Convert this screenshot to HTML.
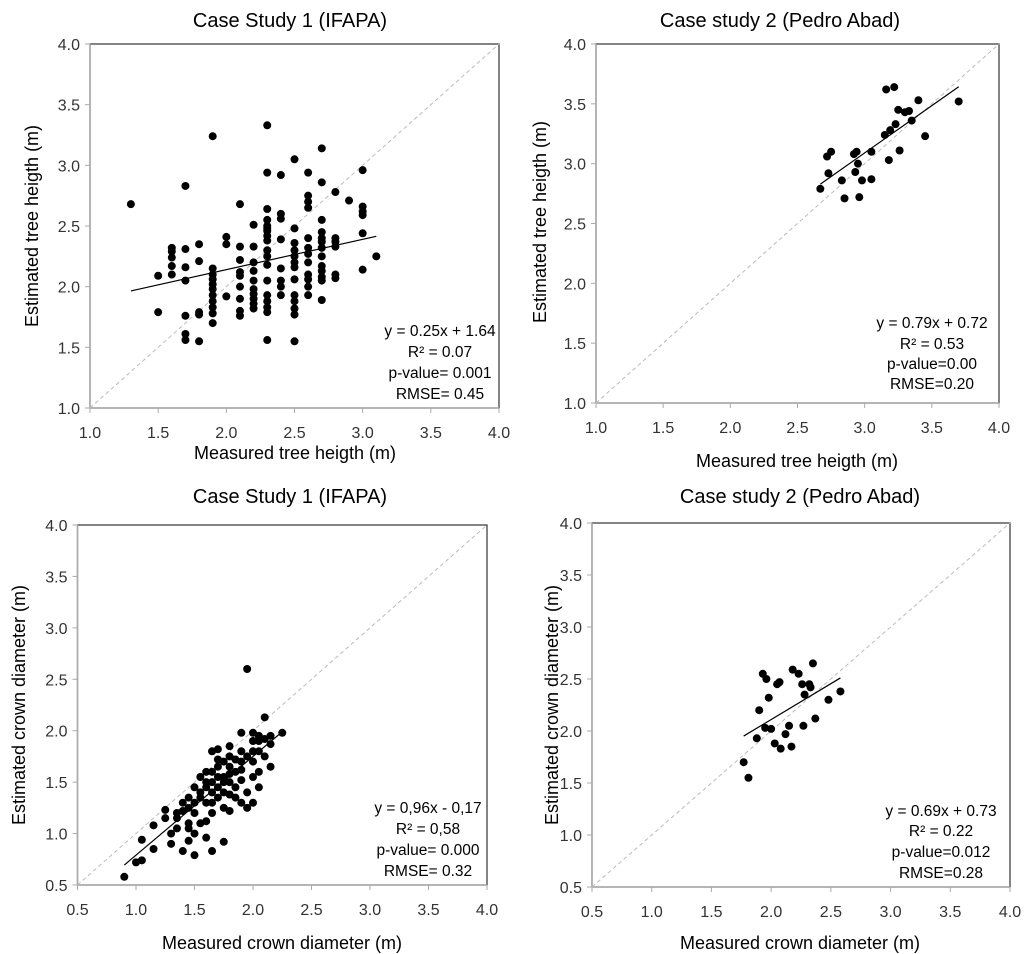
<!DOCTYPE html>
<html><head><meta charset="utf-8"><style>
body{margin:0;background:#fff}
svg{display:block;font-family:"Liberation Sans",sans-serif}
</style></head><body>
<svg id="fig" width="1024" height="954" viewBox="0 0 1024 954"></svg>
<script>
// ---- data ----
const p1x=[1.3,1.5,1.5,1.6,1.6,1.6,1.6,1.6,1.7,1.7,1.7,1.7,1.7,1.7,1.7,1.8,1.8,1.8,1.8,1.8,1.9,1.9,1.9,1.9,1.9,1.9,1.9,1.9,1.9,1.9,1.9,2.0,2.0,2.0,2.1,2.1,2.1,2.1,2.1,2.1,2.1,2.1,2.1,2.2,2.2,2.2,2.2,2.2,2.2,2.2,2.2,2.2,2.2,2.3,2.3,2.3,2.3,2.3,2.3,2.3,2.3,2.3,2.3,2.3,2.3,2.3,2.3,2.3,2.3,2.3,2.3,2.4,2.4,2.4,2.4,2.4,2.4,2.4,2.4,2.5,2.5,2.5,2.5,2.5,2.5,2.5,2.5,2.5,2.5,2.5,2.5,2.5,2.6,2.6,2.6,2.6,2.6,2.6,2.6,2.6,2.6,2.6,2.6,2.6,2.7,2.7,2.7,2.7,2.7,2.7,2.7,2.7,2.7,2.7,2.7,2.7,2.7,2.8,2.8,2.8,2.8,2.8,2.8,2.9,3.0,3.0,3.0,3.0,3.0,3.0,3.1];
const p1y=[2.68,2.09,1.79,2.32,2.29,2.24,2.17,2.10,2.31,2.16,2.05,2.83,1.76,1.61,1.56,2.35,2.21,1.79,1.55,1.77,3.24,2.15,2.10,2.06,2.02,1.98,1.93,1.88,1.83,1.78,1.70,2.41,2.35,1.92,2.68,2.33,2.22,2.12,2.09,2.00,1.90,1.80,1.76,2.51,2.33,2.20,2.13,1.98,1.94,1.90,1.86,1.82,2.05,3.33,2.94,2.64,2.55,2.50,2.46,2.42,2.38,2.30,2.25,2.18,2.05,1.93,1.88,1.83,1.79,1.56,2.48,2.92,2.60,2.56,2.39,2.15,2.05,2.00,1.93,3.05,2.48,2.30,2.25,2.20,2.16,2.06,1.93,1.88,1.82,1.77,1.55,2.36,2.94,2.75,2.70,2.65,2.40,2.32,2.27,2.20,2.10,2.06,2.00,1.93,3.14,2.86,2.55,2.40,2.37,2.32,2.25,2.17,2.13,2.08,2.05,1.89,2.45,2.78,2.40,2.37,2.33,2.10,2.07,2.71,2.96,2.66,2.62,2.59,2.44,2.14,2.25];
const p2x=[2.67,2.72,2.73,2.75,2.83,2.85,2.92,2.93,2.94,2.95,2.96,2.98,3.05,3.05,3.15,3.16,3.18,3.19,3.22,3.23,3.25,3.26,3.30,3.33,3.35,3.40,3.45,3.70];
const p2y=[2.79,3.06,2.92,3.10,2.86,2.71,3.08,2.93,3.10,3.00,2.72,2.86,3.10,2.87,3.24,3.62,3.03,3.28,3.64,3.33,3.45,3.11,3.43,3.44,3.36,3.53,3.23,3.52];
const p3x=[0.9,1.0,1.05,1.05,1.15,1.15,1.25,1.25,1.3,1.3,1.35,1.35,1.35,1.4,1.4,1.4,1.45,1.45,1.45,1.45,1.45,1.5,1.5,1.5,1.5,1.5,1.55,1.55,1.55,1.55,1.6,1.6,1.6,1.6,1.6,1.6,1.65,1.65,1.65,1.65,1.65,1.65,1.65,1.7,1.7,1.7,1.7,1.7,1.7,1.75,1.75,1.75,1.75,1.75,1.75,1.8,1.8,1.8,1.8,1.8,1.8,1.8,1.85,1.85,1.85,1.85,1.9,1.9,1.9,1.9,1.9,1.9,1.95,1.95,1.95,1.95,2.0,2.0,2.0,2.0,2.0,2.05,2.05,2.05,2.05,2.05,2.1,2.1,2.1,2.15,2.15,2.15,2.25,2.0];
const p3y=[0.58,0.72,0.74,0.94,1.08,0.85,1.23,1.15,0.90,1.0,1.05,1.15,1.20,1.30,1.22,0.83,1.35,1.25,1.10,1.05,0.93,1.45,1.30,1.20,1.0,0.79,1.55,1.40,1.35,1.10,1.60,1.50,1.45,1.30,1.12,0.96,1.80,1.60,1.50,1.40,1.30,1.20,0.83,1.82,1.72,1.65,1.55,1.45,1.35,1.70,1.55,1.50,1.40,1.25,0.92,1.85,1.75,1.65,1.58,1.50,1.38,1.22,1.72,1.60,1.45,1.35,1.98,1.80,1.70,1.62,1.52,1.30,2.60,1.75,1.40,1.25,1.98,1.90,1.80,1.70,1.55,1.95,1.90,1.80,1.60,1.45,2.13,1.92,1.75,1.95,1.87,1.65,1.98,1.30];
const p4x=[1.77,1.81,1.88,1.90,1.93,1.95,1.96,1.98,2.00,2.03,2.05,2.07,2.08,2.12,2.15,2.17,2.18,2.23,2.26,2.27,2.28,2.32,2.33,2.35,2.37,2.48,2.58];
const p4y=[1.70,1.55,1.93,2.20,2.55,2.03,2.50,2.32,2.02,1.88,2.45,2.47,1.83,1.97,2.05,1.85,2.59,2.55,2.45,2.05,2.35,2.45,2.42,2.65,2.12,2.30,2.38];
const ticks1=[1.0,1.5,2.0,2.5,3.0,3.5,4.0];
const ticks2=[0.5,1.0,1.5,2.0,2.5,3.0,3.5,4.0];
const fits=[[0.25,1.64],[0.79,0.72],[0.96,-0.17],[0.69,0.73]];
const stats1=["y = 0.25x + 1.64","R² = 0.07","p-value= 0.001","RMSE= 0.45"];
const stats2=["y = 0.79x + 0.72","R² = 0.53","p-value=0.00","RMSE=0.20"];
const stats3=["y = 0,96x - 0,17","R² = 0,58","p-value= 0.000","RMSE= 0.32"];
const stats4=["y = 0.69x + 0.73","R² = 0.22","p-value=0.012","RMSE=0.28"];

const NS="http://www.w3.org/2000/svg";
const svg=document.getElementById('fig');
function mk(tag,attrs,parent,text){const e=document.createElementNS(NS,tag);for(const k in attrs)e.setAttribute(k,attrs[k]);if(text!==undefined)e.textContent=text;(parent||svg).appendChild(e);return e;}

const panels=[
 {id:'height-ifapa',L:90,R:499,T:44,B:408,ticks:ticks1,xs:p1x,ys:p1y,fit:fits[0],stats:stats1,sx:440,sy:[336,357,378,399],title:"Case Study 1 (IFAPA)",tx:290,ty:27,xt:"Measured tree heigth (m)",xtx:295,xty:459,yt:"Estimated tree heigth (m)",ytx:38,yty:226},
 {id:'height-pedro-abad',L:596,R:999,T:44,B:403,ticks:ticks1,xs:p2x,ys:p2y,fit:fits[1],stats:stats2,sx:932,sy:[328,349,369,389],title:"Case study 2 (Pedro Abad)",tx:780,ty:27,xt:"Measured tree heigth (m)",xtx:797,xty:467,yt:"Estimated tree heigth (m)",ytx:546,yty:222},
 {id:'crown-ifapa',L:77.5,R:487,T:525,B:885,ticks:ticks2,xs:p3x,ys:p3y,fit:fits[2],stats:stats3,sx:428,sy:[813,834,855,876],title:"Case Study 1 (IFAPA)",tx:290,ty:503,xt:"Measured crown diameter (m)",xtx:282,xty:949,yt:"Estimated crown diameter (m)",ytx:25,yty:705},
 {id:'crown-pedro-abad',L:592,R:1010,T:523,B:887,ticks:ticks2,xs:p4x,ys:p4y,fit:fits[3],stats:stats4,sx:941,sy:[816,836,857,878],title:"Case study 2 (Pedro Abad)",tx:800,ty:503,xt:"Measured crown diameter (m)",xtx:800,xty:949,yt:"Estimated crown diameter (m)",ytx:558,yty:705}
];

panels.forEach(p=>{
 const g=mk('g',{});
 
 
 const lo=p.ticks[0],hi=p.ticks[p.ticks.length-1];
 const X=v=>p.L+(v-lo)/(hi-lo)*(p.R-p.L);
 const Y=v=>p.B-(v-lo)/(hi-lo)*(p.B-p.T);
 const fr=mk('rect',{x:p.L,y:p.T,width:p.R-p.L,height:p.B-p.T,fill:'none',stroke:'#333','stroke-width':1.2},g);
 
 
 mk('line',{x1:p.L,y1:p.T,x2:p.L,y2:p.B,stroke:'#aaa','stroke-width':1.5},g);
 mk('line',{x1:p.L,y1:p.B,x2:p.R,y2:p.B,stroke:'#aaa','stroke-width':1.5},g);
 p.ticks.forEach(t=>{
  mk('line',{x1:X(t),y1:p.B,x2:X(t),y2:p.B+5,stroke:'#aaa'},g);
  mk('line',{x1:p.L-5,y1:Y(t),x2:p.L,y2:Y(t),stroke:'#aaa'},g);
  const xl=mk('text',{x:X(t),y:p.B+30,'text-anchor':'middle','font-size':16,fill:'#333'},g,t.toFixed(1));
  
  
  const yl=mk('text',{x:p.L-10,y:Y(t)+6,'text-anchor':'end','font-size':16,fill:'#333'},g,t.toFixed(1));
  
  
 });
 const d=mk('line',{x1:X(lo),y1:Y(lo),x2:X(hi),y2:Y(hi),stroke:'#bbb','stroke-width':1,'stroke-dasharray':'4,3'},g);
 
 
 p.xs.forEach((v,i)=>{
  const c=mk('circle',{cx:X(v),cy:Y(p.ys[i]),r:4,fill:'#000'},g);
  
  
 });
 const x0=Math.min(...p.xs),x1=Math.max(...p.xs);
 const f=mk('line',{x1:X(x0),y1:Y(p.fit[0]*x0+p.fit[1]),x2:X(x1),y2:Y(p.fit[0]*x1+p.fit[1]),stroke:'#000','stroke-width':1.2},g);
 
 
 p.stats.forEach((s,i)=>{
  const t=mk('text',{x:p.sx,y:p.sy[i],'text-anchor':'middle','font-size':15.5,fill:'#000'},g,s);
  
  
 });
 const ti=mk('text',{x:p.tx,y:p.ty,'text-anchor':'middle','font-size':20,fill:'#000'},g,p.title);
 
 
 const xt=mk('text',{x:p.xtx,y:p.xty,'text-anchor':'middle','font-size':18,fill:'#000'},g,p.xt);
 
 
 const yt=mk('text',{x:p.ytx,y:p.yty,'text-anchor':'middle','font-size':18,fill:'#000',transform:`rotate(-90 ${p.ytx} ${p.yty})`},g,p.yt);
 
 
});
</script>
</body></html>
